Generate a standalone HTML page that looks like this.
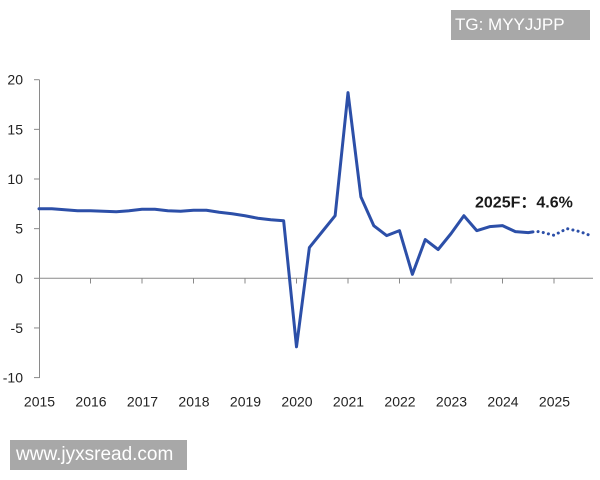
<!DOCTYPE html>
<html>
<head>
<meta charset="utf-8">
<style>
html,body{margin:0;padding:0;background:#fff;}
body{width:600px;height:480px;overflow:hidden;position:relative;font-family:"Liberation Sans","Noto Sans CJK SC",sans-serif;}
svg{position:absolute;left:0;top:0;}
.wm{position:absolute;background:#a8a8a8;color:#fff;font-family:"Liberation Sans",sans-serif;white-space:nowrap;}
</style>
</head>
<body>
<svg width="600" height="480" viewBox="0 0 600 480" xmlns="http://www.w3.org/2000/svg">
  <!-- axes -->
  <g stroke="#8a8a8a" stroke-width="1" fill="none">
    <line x1="39.5" y1="79.7" x2="39.5" y2="378"/>
    <line x1="34" y1="79.7" x2="39.5" y2="79.7"/>
    <line x1="34" y1="129.35" x2="39.5" y2="129.35"/>
    <line x1="34" y1="179" x2="39.5" y2="179"/>
    <line x1="34" y1="228.65" x2="39.5" y2="228.65"/>
    <line x1="34" y1="278.3" x2="39.5" y2="278.3"/>
    <line x1="34" y1="327.95" x2="39.5" y2="327.95"/>
    <line x1="34" y1="377.6" x2="39.5" y2="377.6"/>
    <line x1="39" y1="278.3" x2="593" y2="278.3"/>
    <line x1="90.5" y1="278.3" x2="90.5" y2="283.5"/>
    <line x1="142" y1="278.3" x2="142" y2="283.5"/>
    <line x1="193.5" y1="278.3" x2="193.5" y2="283.5"/>
    <line x1="245" y1="278.3" x2="245" y2="283.5"/>
    <line x1="296.5" y1="278.3" x2="296.5" y2="283.5"/>
    <line x1="348" y1="278.3" x2="348" y2="283.5"/>
    <line x1="399.5" y1="278.3" x2="399.5" y2="283.5"/>
    <line x1="451" y1="278.3" x2="451" y2="283.5"/>
    <line x1="502.5" y1="278.3" x2="502.5" y2="283.5"/>
    <line x1="554" y1="278.3" x2="554" y2="283.5"/>
  </g>
  <!-- y labels -->
  <g font-family="Liberation Sans, sans-serif" font-size="14" fill="#222" text-anchor="end">
    <text x="23" y="84.7">20</text>
    <text x="23" y="134.3">15</text>
    <text x="23" y="184">10</text>
    <text x="23" y="233.6">5</text>
    <text x="23" y="283.3">0</text>
    <text x="23" y="332.9">-5</text>
    <text x="23" y="382.6">-10</text>
  </g>
  <!-- x labels -->
  <g font-family="Liberation Sans, sans-serif" font-size="14" fill="#222" text-anchor="middle">
    <text x="39.5" y="406.5">2015</text>
    <text x="91" y="406.5">2016</text>
    <text x="142.5" y="406.5">2017</text>
    <text x="194" y="406.5">2018</text>
    <text x="245.5" y="406.5">2019</text>
    <text x="297" y="406.5">2020</text>
    <text x="348.5" y="406.5">2021</text>
    <text x="400" y="406.5">2022</text>
    <text x="451.5" y="406.5">2023</text>
    <text x="503" y="406.5">2024</text>
    <text x="554.5" y="406.5">2025</text>
  </g>
  <!-- solid series -->
  <polyline fill="none" stroke="#2c4fa8" stroke-width="3" stroke-linejoin="round" stroke-linecap="round"
    points="39,208.79 51.88,208.79 64.75,209.78 77.63,210.78 90.5,210.78 103.38,211.27 116.25,211.77 129.13,210.78 142,209.29 154.88,209.29 167.75,210.78 180.63,211.27 193.5,210.28 206.38,210.28 219.25,212.27 232.13,213.76 245,215.74 257.88,218.22 270.75,219.71 283.63,220.71 296.5,346.82 309.38,247.52 322.25,231.63 335.13,215.74 348,92.61 360.88,196.87 373.75,225.67 386.63,235.6 399.5,230.64 412.38,274.33 425.25,239.57 438.13,249.5 451,233.62 463.88,215.74 476.75,230.64 489.63,226.66 502.5,225.67 515.38,231.63 528.25,232.62 533,231.9"/>
  <!-- dotted forecast -->
  <polyline fill="none" stroke="#2c4fa8" stroke-width="3" stroke-linecap="round" stroke-dasharray="0.1 5.2"
    points="538,231.6 541.13,232 554,235.3 566.88,228.6 579.75,231.6 592.63,236.3"/>
  <!-- annotation -->
  <text x="475" y="207.5" font-family="Liberation Sans, Noto Sans CJK SC, sans-serif" font-size="16" font-weight="bold" fill="#1a1a1a">2025F：4.6%</text>
</svg>
<div class="wm" style="left:451px;top:10px;width:139px;height:30px;font-size:17px;line-height:30px;padding-left:4px;box-sizing:border-box;">TG: MYYJJPP</div>
<div class="wm" style="left:10px;top:440px;width:177px;height:30px;font-size:19px;line-height:30px;padding-left:6px;box-sizing:border-box;">www.jyxsread.com</div>
</body>
</html>
